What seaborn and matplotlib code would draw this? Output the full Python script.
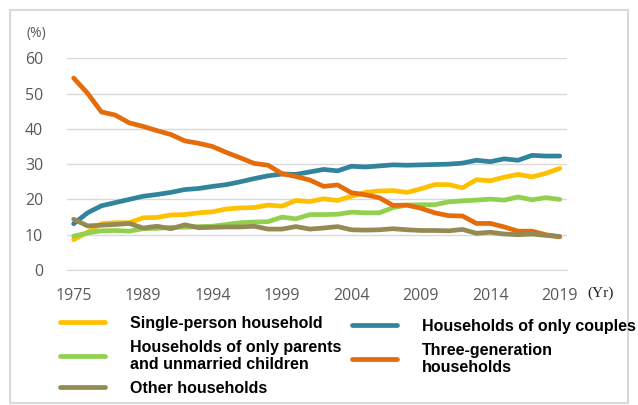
import matplotlib
matplotlib.use("Agg")
import matplotlib.pyplot as plt
import seaborn as sns
import pandas as pd
import numpy as np
from matplotlib.patches import Rectangle
from matplotlib.font_manager import FontProperties

years = [1975, 1980] + list(range(1986, 2020))

single = [8.6, 10.7, 13.1, 13.4, 13.4, 14.8, 14.9, 15.6, 15.7, 16.2, 16.5, 17.3,
          17.6, 17.7, 18.4, 18.1, 19.7, 19.4, 20.2, 19.7, 20.9, 22.0, 22.4, 22.5,
          22.0, 23.0, 24.2, 24.2, 23.3, 25.6, 25.3, 26.3, 27.1, 26.4, 27.4, 28.8]
couples = [13.1, 16.2, 18.2, 19.1, 20.0, 20.9, 21.4, 22.0, 22.8, 23.1, 23.7, 24.2,
           25.0, 25.9, 26.7, 27.2, 27.1, 27.8, 28.5, 28.1, 29.4, 29.2, 29.5, 29.8,
           29.7, 29.8, 29.9, 30.0, 30.3, 31.1, 30.7, 31.5, 31.1, 32.5, 32.3, 32.3]
parents = [9.6, 10.5, 11.1, 11.2, 11.0, 11.7, 11.8, 12.1, 12.1, 12.3, 12.4, 12.9,
           13.4, 13.6, 13.7, 15.0, 14.5, 15.7, 15.7, 15.8, 16.4, 16.2, 16.2, 17.7,
           18.4, 18.5, 18.5, 19.3, 19.6, 19.8, 20.1, 19.8, 20.7, 19.9, 20.5, 20.0]
three_gen = [54.4, 50.1, 44.8, 43.9, 41.7, 40.7, 39.5, 38.4, 36.6, 35.9, 35.0, 33.3,
             31.8, 30.2, 29.7, 27.3, 26.5, 25.5, 23.7, 24.1, 21.9, 21.3, 20.5, 18.3,
             18.4, 17.5, 16.2, 15.4, 15.3, 13.2, 13.2, 12.2, 11.0, 11.0, 10.0, 9.4]
other = [14.4, 12.5, 12.7, 12.9, 13.2, 11.9, 12.4, 11.7, 12.8, 12.0, 12.1, 12.2,
         12.2, 12.4, 11.6, 11.6, 12.3, 11.6, 11.9, 12.3, 11.4, 11.3, 11.4, 11.7,
         11.4, 11.2, 11.2, 11.1, 11.5, 10.4, 10.7, 10.2, 10.0, 10.2, 9.8, 9.5]

series_names = ["Single-person household",
                "Households of only couples",
                "Households of only parents\nand unmarried children",
                "Three-generation\nhouseholds",
                "Other households"]
series_values = [single, couples, parents, three_gen, other]
colors = ["#FFC000", "#31849B", "#92D050", "#E46C0A", "#948A54"]

sns.set_style("white")
plt.rcParams['font.family'] = ['Open Sans', 'DejaVu Sans']

pos = list(range(len(years)))
frames = []
for name, vals in zip(series_names, series_values):
    frames.append(pd.DataFrame({"pos": pos, "year": years, "value": vals, "series": name}))
long = pd.concat(frames, ignore_index=True)

fig = plt.figure(figsize=(6.38, 4.05), dpi=100)
ax = fig.add_axes([66.7 / 638, 1 - 270 / 405, 500 / 638, (270 - 58.3) / 405])

sns.lineplot(data=long, x="pos", y="value", hue="series", hue_order=series_names,
             palette=colors, linewidth=3.4, ax=ax, legend=False,
             solid_joinstyle="round", solid_capstyle="round")

ax.set_xlim(-0.5, len(years) - 0.5)
ax.set_ylim(0, 60)
ax.set_yticks(range(0, 61, 10))
ax.yaxis.grid(True, color="#D9D9D9", linewidth=1)
ax.xaxis.grid(False)
ax.set_axisbelow(True)
major = list(range(0, len(years), 5))
ax.set_xticks(major)
ax.set_xticklabels([str(years[i]) for i in major])
ax.set_xticks(np.arange(-0.5, len(years), 1.0), minor=True)
ax.tick_params(axis="x", which="major", length=0, pad=13, labelsize=11.5, labelcolor="#595959")
ax.tick_params(axis="x", which="minor", length=4, width=0.8, color="#C8C8C8", direction="out")
ax.tick_params(axis="y", length=0, pad=17, labelsize=11.5, labelcolor="#595959")
ax.set_xlabel("")
ax.set_ylabel("")
for s in ["top", "right", "left"]:
    ax.spines[s].set_visible(False)
ax.spines["bottom"].set_color("#D9D9D9")

handles = {name: line for name, line in zip(series_names, ax.get_lines())}
lp = FontProperties(family="Liberation Sans", weight="bold", size=11.5)
leg_kw = dict(frameon=False, prop=lp, handlelength=2.8, handletextpad=1.6,
              labelspacing=0.55, borderpad=0, borderaxespad=0, loc="upper left")
c1 = [series_names[0], series_names[2], series_names[4]]
c2 = [series_names[1], series_names[3]]
leg1 = fig.legend([handles[n] for n in c1], c1, bbox_to_anchor=(60 / 638, 1 - 316 / 405), **leg_kw)
leg2 = fig.legend([handles[n] for n in c2], c2, bbox_to_anchor=(352 / 638, 1 - 319 / 405), **leg_kw)
for leg in (leg1, leg2):
    for t in leg.get_texts():
        t.set_color("black")

fig.text(36 / 638, 1 - 33 / 405, "(%)", ha="center", va="center", fontsize=10, color="#595959")
fig.text(601 / 638, 1 - 293 / 405, "(Yr)", ha="center", va="center", fontsize=11,
         color="#222222", family="Liberation Serif")

fig.patches.append(Rectangle((10 / 638, 1 - 403 / 405), 618 / 638, 393 / 405, fill=False,
                             edgecolor="#D9D9D9", linewidth=1.5, transform=fig.transFigure))

fig.savefig("out.png", dpi=100)
